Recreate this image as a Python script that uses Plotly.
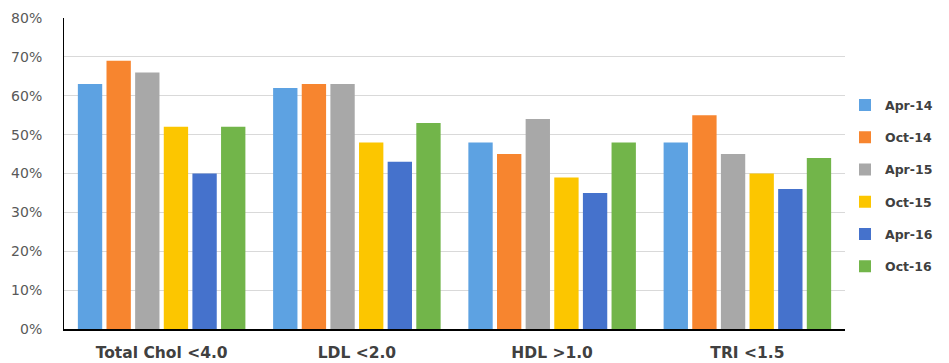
import plotly.graph_objects as go

categories = ["Total Chol <4.0", "LDL <2.0", "HDL >1.0", "TRI <1.5"]
series_names = ["Apr-14", "Oct-14", "Apr-15", "Oct-15", "Apr-16", "Oct-16"]
apr14 = [0.63, 0.62, 0.48, 0.48]
oct14 = [0.69, 0.63, 0.45, 0.55]
apr15 = [0.66, 0.63, 0.54, 0.45]
oct15 = [0.52, 0.48, 0.39, 0.40]
apr16 = [0.40, 0.43, 0.35, 0.36]
oct16 = [0.52, 0.53, 0.48, 0.44]
series_values = [apr14, oct14, apr15, oct15, apr16, oct16]
colors = ["#5DA2E2", "#F7852F", "#A8A8A8", "#FCC600", "#4572CC", "#72B54A"]
y_ticks = [0, 0.1, 0.2, 0.3, 0.4, 0.5, 0.6, 0.7, 0.8]

fig = go.Figure()
for name, vals, c in zip(series_names, series_values, colors):
    fig.add_trace(go.Bar(
        x=categories, y=vals, name=name, legendgroup=name,
        marker=dict(color=c, line=dict(width=0)),
    ))

fig.update_layout(
    width=941, height=355,
    margin=dict(l=56, r=104, t=10, b=34),
    paper_bgcolor="white", plot_bgcolor="white",
    barmode="group", bargap=0.12, bargroupgap=0.15,
    font=dict(family="DejaVu Sans, sans-serif", color="#595959"),
    legend=dict(
        x=1.0, y=0.46, xanchor="left", yanchor="middle",
        font=dict(size=12.5, color="#404040", family="DejaVu Sans, sans-serif", weight="bold"),
        tracegroupgap=13, itemwidth=30,
    ),
    xaxis=dict(
        showline=True, linecolor="black", linewidth=2,
        tickfont=dict(size=15.5, color="#404040", weight="bold"),
        ticks="", ticklabelstandoff=8, automargin=False,
    ),
    yaxis=dict(
        range=[0, 0.8], tickvals=y_ticks, tickformat=".0%",
        showline=True, linecolor="black", linewidth=1,
        showgrid=True, gridcolor="#D9D9D9", gridwidth=1,
        tickfont=dict(size=14, color="#595959"),
        ticks="", ticklabelstandoff=18, zeroline=False, automargin=False,
    ),
)

fig.write_html("out.html")
